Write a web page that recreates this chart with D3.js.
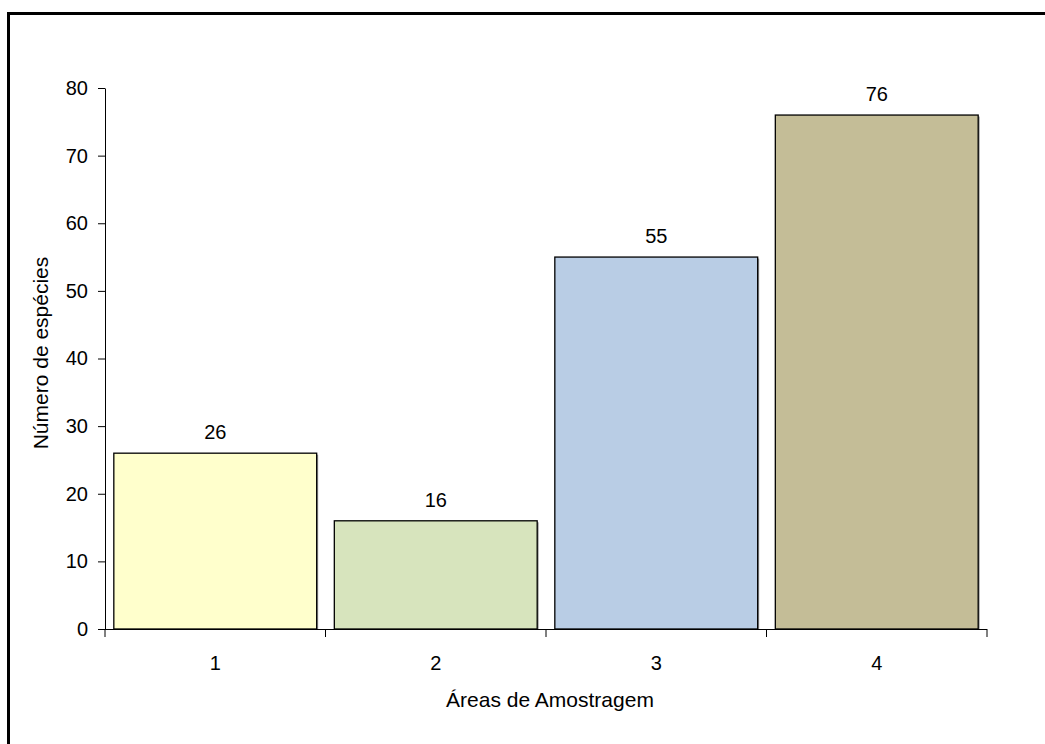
<!DOCTYPE html>
<html>
<head>
<meta charset="utf-8">
<script src="https://cdn.jsdelivr.net/npm/d3@7"></script>
<style>
  html, body { margin: 0; padding: 0; background: #fff; }
  svg { display: block; }
  text { font-family: "Liberation Sans", Arial, sans-serif; fill: #000; }
</style>
</head>
<body>
<svg id="chart" width="1045" height="744"></svg>
<script>
// Species count per sampling area
const categories = ["1", "2", "3", "4"];
const speciesCounts = [26, 16, 55, 76];
const barColors = ["#FFFFCC", "#D7E4BD", "#B9CDE5", "#C4BD97"];
const yTicks = [0, 10, 20, 30, 40, 50, 60, 70, 80];

const FONT = "Liberation Sans, Arial, sans-serif";
const svg = d3.select("#chart");

// Outer frame (right and bottom edges fall outside the page)
svg.append("rect")
  .attr("x", 8.5).attr("y", 13.5)
  .attr("width", 1100).attr("height", 800)
  .attr("fill", "none").attr("stroke", "#000").attr("stroke-width", 3);

const plot = { left: 105, right: 987, top: 88, bottom: 629 };

const x = d3.scaleBand().domain(categories).range([plot.left, plot.right]).padding(0);
const y = d3.scaleLinear().domain([0, 80]).range([plot.bottom, plot.top]);

const barFrac = 0.92;
const barW = x.bandwidth() * barFrac;
const barOff = (x.bandwidth() - barW) / 2;

const data = categories.map((c, i) => ({ cat: c, value: speciesCounts[i], color: barColors[i] }));

// Bar shadows
svg.append("g").selectAll("rect").data(data).join("rect")
  .attr("x", d => x(d.cat) + barOff + 1.5)
  .attr("y", d => y(d.value) + 1.5)
  .attr("width", barW)
  .attr("height", d => y(0) - y(d.value) - 1.5)
  .attr("fill", "#999");

// Bars
svg.append("g").selectAll("rect").data(data).join("rect")
  .attr("x", d => x(d.cat) + barOff)
  .attr("y", d => y(d.value))
  .attr("width", barW)
  .attr("height", d => y(0) - y(d.value))
  .attr("fill", d => d.color)
  .attr("stroke", "#000")
  .attr("stroke-width", 1.3);

// Value labels
svg.append("g").selectAll("text").data(data).join("text")
  .attr("x", d => x(d.cat) + x.bandwidth() / 2)
  .attr("y", d => y(d.value) - 14)
  .attr("text-anchor", "middle")
  .attr("font-size", 20)
  .text(d => d.value);

// Y axis
const yAxis = svg.append("g")
  .attr("transform", `translate(${plot.left},0)`)
  .call(d3.axisLeft(y).tickValues(yTicks).tickSize(7).tickPadding(10).tickSizeOuter(0));
yAxis.select(".domain").attr("stroke", "#000").attr("stroke-width", 1);
yAxis.selectAll(".tick line").attr("stroke", "#000");
yAxis.selectAll(".tick text").attr("font-size", 20).attr("font-family", FONT).attr("fill", "#000");

// X axis: labels centred, tick marks at category boundaries
const xAxis = svg.append("g")
  .attr("transform", `translate(0,${plot.bottom})`)
  .call(d3.axisBottom(x).tickSize(0).tickSizeOuter(0));
xAxis.select(".domain").attr("d", `M${plot.left},0.5H${plot.right}`).attr("stroke", "#000");
xAxis.selectAll(".tick text")
  .attr("font-size", 20).attr("font-family", FONT).attr("fill", "#000")
  .attr("dy", null).attr("y", 41);

const boundaries = categories.map(c => x(c)).concat([plot.right]);
xAxis.append("g").selectAll("line").data(boundaries).join("line")
  .attr("x1", d => d).attr("x2", d => d)
  .attr("y1", 0).attr("y2", 8)
  .attr("stroke", "#000");

// Axis titles
svg.append("text")
  .attr("x", 550)
  .attr("y", 707)
  .attr("text-anchor", "middle")
  .attr("font-size", 21)
  .text("Áreas de Amostragem");

svg.append("text")
  .attr("transform", `translate(48,353) rotate(-90)`)
  .attr("text-anchor", "middle")
  .attr("font-size", 21)
  .text("Número de espécies");
</script>
</body>
</html>
